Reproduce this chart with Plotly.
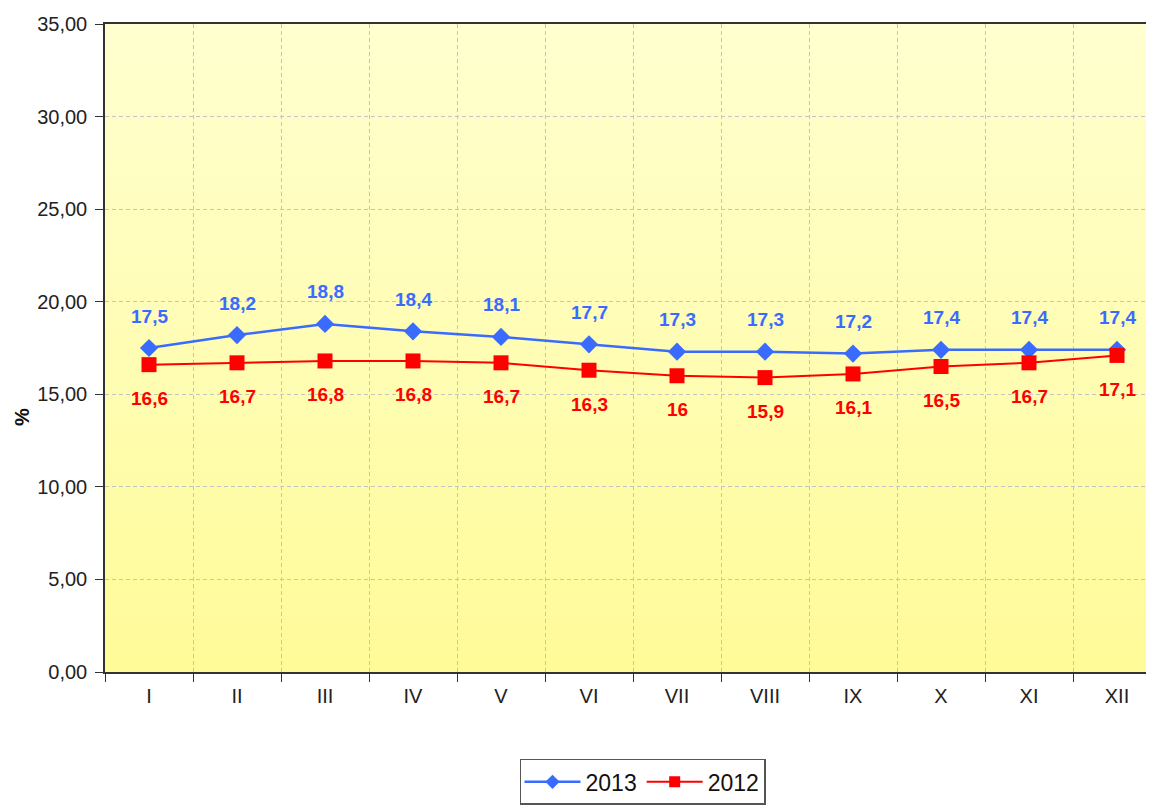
import plotly.graph_objects as go

MONTHS = ["I", "II", "III", "IV", "V", "VI", "VII", "VIII", "IX", "X", "XI", "XII"]
VALUES_2013 = [17.5, 18.2, 18.8, 18.4, 18.1, 17.7, 17.3, 17.3, 17.2, 17.4, 17.4, 17.4]
VALUES_2012 = [16.6, 16.7, 16.8, 16.8, 16.7, 16.3, 16.0, 15.9, 16.1, 16.5, 16.7, 17.1]

BLUE = "#3A6BFF"
RED = "#FF0000"
FONT = "Liberation Sans, Arial, sans-serif"
GRID = "#C4C4C4"

BG_TOP = (255, 255, 207)
BG_BOTTOM = (255, 251, 153)


def fmt(v):
    return f"{v:g}".replace(".", ",")


fig = go.Figure()

fig.add_trace(go.Scatter(
    x=MONTHS, y=VALUES_2013, name="2013", mode="lines+markers",
    line=dict(color=BLUE, width=2.5), legendgroup="2013", showlegend=False,
    marker=dict(symbol="diamond", size=14, color=BLUE),
))
fig.add_trace(go.Scatter(
    x=MONTHS, y=VALUES_2012, name="2012", mode="lines+markers",
    line=dict(color=RED, width=2), legendgroup="2012", showlegend=False,
    marker=dict(symbol="square", size=15, color=RED),
))
# legend entries with the smaller symbols of the original legend
fig.add_trace(go.Scatter(
    x=[None], y=[None], name="2013", mode="lines+markers", legendgroup="2013",
    line=dict(color=BLUE, width=2.5), marker=dict(symbol="diamond", size=11, color=BLUE),
))
fig.add_trace(go.Scatter(
    x=[None], y=[None], name="2012", mode="lines+markers", legendgroup="2012",
    line=dict(color=RED, width=2), marker=dict(symbol="square", size=11, color=RED),
))

for m, v in zip(MONTHS, VALUES_2013):
    fig.add_annotation(x=m, y=v, text=fmt(v), showarrow=False, yshift=32,
                       font=dict(family=FONT, size=19, color=BLUE, weight="bold"))
for m, v in zip(MONTHS, VALUES_2012):
    fig.add_annotation(x=m, y=v, text=fmt(v), showarrow=False, yshift=-34,
                       font=dict(family=FONT, size=19, color=RED, weight="bold"))

# y axis title sits a bit below the middle in the original
fig.add_annotation(xref="paper", yref="paper", x=-0.0786, y=0.3935, text="<b>%</b>",
                   textangle=-90, showarrow=False, xanchor="center", yanchor="middle",
                   font=dict(family=FONT, size=20, color="#111111"))

# vertical yellow gradient of the plot area, built from thin bands below the grid
n_bands = 60
for i in range(n_bands):
    t = i / (n_bands - 1)
    r, g, b = (round(BG_BOTTOM[k] + (BG_TOP[k] - BG_BOTTOM[k]) * t) for k in range(3))
    fig.add_shape(type="rect", xref="paper", yref="paper",
                  x0=0, x1=1, y0=i / n_bands, y1=(i + 1) / n_bands + 0.002,
                  fillcolor=f"rgb({r},{g},{b})", line_width=0, layer="below")

fig.update_layout(
    width=1154, height=812,
    paper_bgcolor="white", plot_bgcolor="white",
    separators=",.",
    font=dict(family=FONT, size=20, color="#222222"),
    margin=dict(l=97, r=1, t=16, b=148),
    showlegend=True,
    xaxis=dict(
        type="category", range=[-0.5, 11.5], tickson="boundaries",
        ticks="outside", ticklen=8, tickcolor="#333333",
        showline=True, linecolor="#333333", linewidth=1.5, mirror=True,
        showgrid=True, gridcolor=GRID, griddash="4px,3px", gridwidth=1,
        tickfont=dict(size=20, color="#222222"), ticklabelstandoff=5,
        automargin=False,
    ),
    yaxis=dict(
        range=[0, 35], dtick=5, tickformat=".2f",
        ticks="outside", ticklen=8, tickcolor="#333333",
        showline=True, linecolor="#333333", linewidth=1.5,
        showgrid=True, gridcolor=GRID, griddash="4px,3px", gridwidth=1,
        zeroline=False, automargin=False, ticklabelstandoff=4,
        tickfont=dict(size=20, color="#222222"),
    ),
    legend=dict(
        orientation="h", x=0.509, xanchor="center", y=-0.134, yanchor="top",
        bordercolor="#555555", borderwidth=1.5, bgcolor="white",
        font=dict(size=23, color="#111111"), itemwidth=56,
    ),
)

fig.write_html("out.html")
